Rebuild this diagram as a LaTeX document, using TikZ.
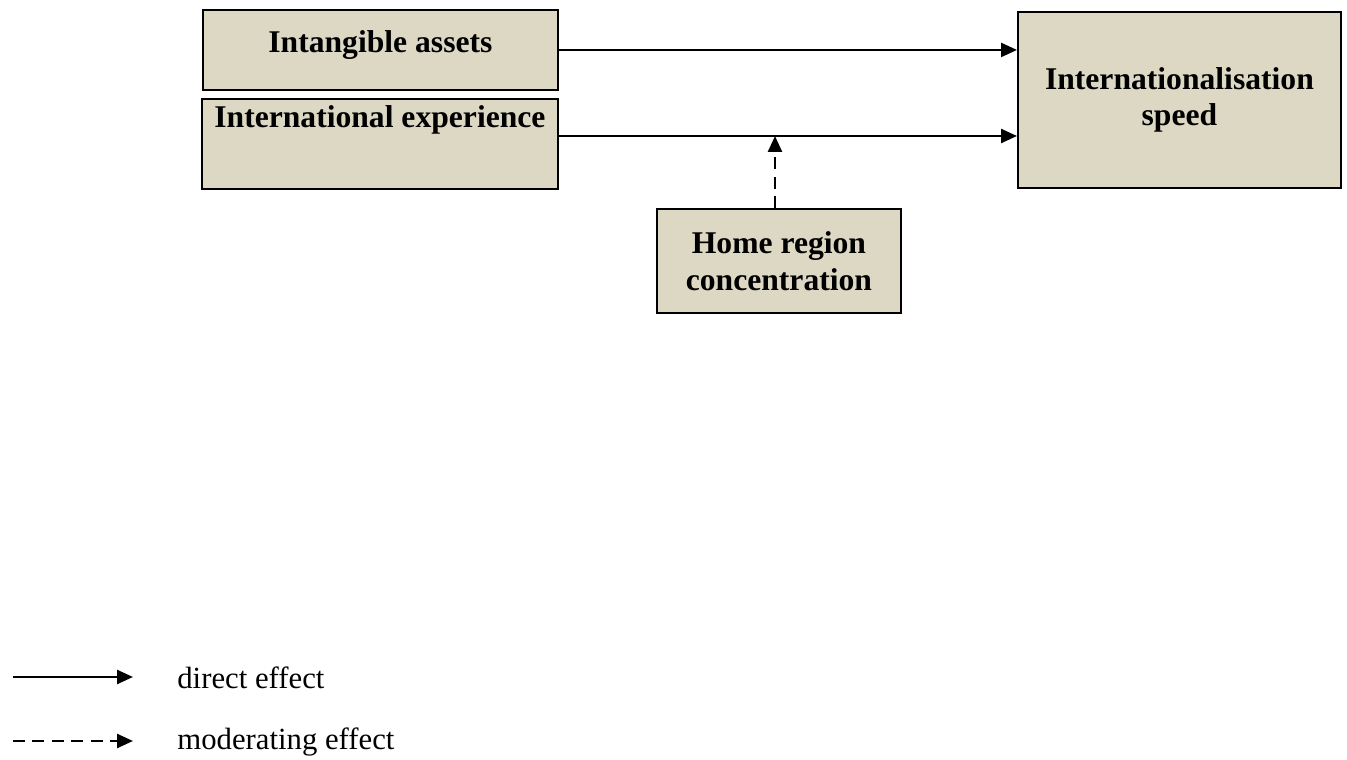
\documentclass[tikz,border=0pt]{standalone}
\usepackage{fontspec}
\setmainfont{Liberation Serif}
\usepackage{xcolor}
\usetikzlibrary{arrows.meta}
\definecolor{boxfill}{RGB}{221,216,196}
\tikzset{
	factor/.style={draw=black,fill=boxfill,line width=1.1pt,inner sep=0pt,align=center,
		font=\fontsize{18}{21}\selectfont\bfseries},
	direct/.style={line width=1.4pt,-{Triangle[length=0.32cm,width=0.28cm]}},
	moderate/.style={direct,dash pattern=on 0.24cm off 0.15cm},
	legendtext/.style={anchor=west,inner sep=0pt,font=\fontsize{17.5}{21}\selectfont}
}

\begin{document}
\begin{tikzpicture}[x=0.02cm,y=-0.02cm]
					\useasboundingbox (0,0) rectangle (1347,760);
					% factors
					\node[factor,anchor=north west,minimum width=7.1cm,text height=0.86cm,text depth=0.74cm] (ia) at (202,9) {Intangible assets};
					\node[factor,anchor=north west,minimum width=7.12cm,text height=0.58cm,text depth=1.22cm] (ie) at (201,98) {International experience};
					\node[factor,anchor=north west,minimum width=6.46cm,minimum height=3.52cm] (speed) at (1017,11) {Internationalisation\\speed};
					\node[factor,anchor=north west,minimum width=4.88cm,minimum height=2.08cm] (home) at (656,208) {Home region\\concentration};
					% effects
					\coordinate (mod) at (775,136);
					\draw[direct] (ia.east) -- (speed.west |- ia.east);
					\draw[direct] (ie.east |- mod) -- (speed.west |- mod);
					\draw[moderate] (home.north -| mod) -- (mod);
					% legend
					\coordinate (d1) at (13,677);
					\coordinate (d2) at (133,677);
					\coordinate (m1) at (13,741);
					\coordinate (m2) at (133,741);
					\draw[direct] (d1) -- (d2);
					\draw[moderate] (m1) -- (m2);
					\node[legendtext] (dtext) at (177,678) {direct effect};
					\node[legendtext] (mtext) at (177,742) {moderating effect};
				\end{tikzpicture}
\end{document}
